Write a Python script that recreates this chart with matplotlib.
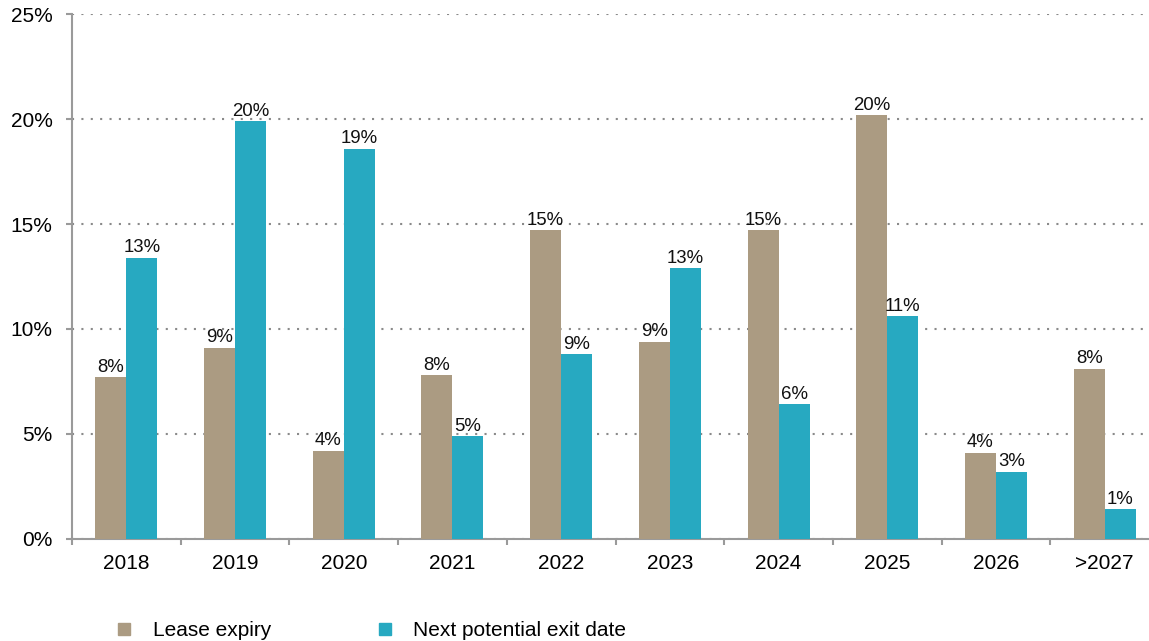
import matplotlib
matplotlib.use("Agg")
import matplotlib.pyplot as plt
from matplotlib.lines import Line2D
from matplotlib.ticker import FuncFormatter
import numpy as np

plt.rcParams['font.family'] = ['Liberation Sans', 'DejaVu Sans']

years = ['2018', '2019', '2020', '2021', '2022', '2023', '2024', '2025', '2026', '>2027']
lease_expiry = [7.7, 9.1, 4.2, 7.8, 14.7, 9.4, 14.7, 20.2, 4.1, 8.1]
next_exit = [13.4, 19.9, 18.6, 4.9, 8.8, 12.9, 6.4, 10.6, 3.2, 1.4]

c_lease = '#ab9b82'
c_exit = '#27a9c1'
c_axis = '#9a9a9a'

fig = plt.figure(figsize=(11.49, 6.41), dpi=100)
ax = fig.add_axes([72 / 1149, 102.3 / 641, 1087 / 1149, 524.4 / 641])

x = np.arange(len(years))
w = 0.285
b1 = ax.bar(x - w / 2, lease_expiry, w, color=c_lease, zorder=3)
b2 = ax.bar(x + w / 2, next_exit, w, color=c_exit, zorder=3)

for bars, vals in ((b1, lease_expiry), (b2, next_exit)):
    for r, v in zip(bars, vals):
        ax.annotate('{:.0f}%'.format(v), (r.get_x() + r.get_width() / 2, v),
                    xytext=(0, 1), textcoords='offset points',
                    ha='center', va='bottom', fontsize=13.4, color='#111111')

ax.set_xlim(-0.5, len(years) - 0.5)
ax.set_ylim(0, 25)
ax.set_yticks([0, 5, 10, 15, 20, 25])
ax.yaxis.set_major_formatter(FuncFormatter(lambda v, p: '{:.0f}%'.format(v)))
ax.yaxis.grid(True, color='#8a8a8a', linestyle=(0, (1, 3.5)), linewidth=1.5, zorder=0)
ax.set_axisbelow(True)

ax.set_xticks(x)
ax.set_xticklabels(years)
ax.set_xticks(np.arange(len(years) + 1) - 0.5, minor=True)
ax.tick_params(axis='x', which='major', length=0, pad=11, labelsize=15)
ax.tick_params(axis='x', which='minor', length=4.5, width=1.5, color=c_axis, direction='out')
ax.tick_params(axis='y', length=4, width=1.5, color=c_axis, pad=10, labelsize=15)

for s in ('top', 'right'):
    ax.spines[s].set_visible(False)
for s in ('left', 'bottom'):
    ax.spines[s].set_color(c_axis)
    ax.spines[s].set_linewidth(1.5)

handles = [Line2D([], [], linestyle='none', marker='s', markersize=8, color=c_lease),
           Line2D([], [], linestyle='none', marker='s', markersize=8, color=c_exit)]
fig.legend(handles, ['Lease expiry', 'Next potential exit date'],
           loc='center left', bbox_to_anchor=(114 / 1149, 10 / 641),
           ncol=2, frameon=False, fontsize=15, handlelength=1,
           handletextpad=0.87, columnspacing=4.95, borderpad=0, borderaxespad=0)

fig.savefig('out.png', dpi=100)
